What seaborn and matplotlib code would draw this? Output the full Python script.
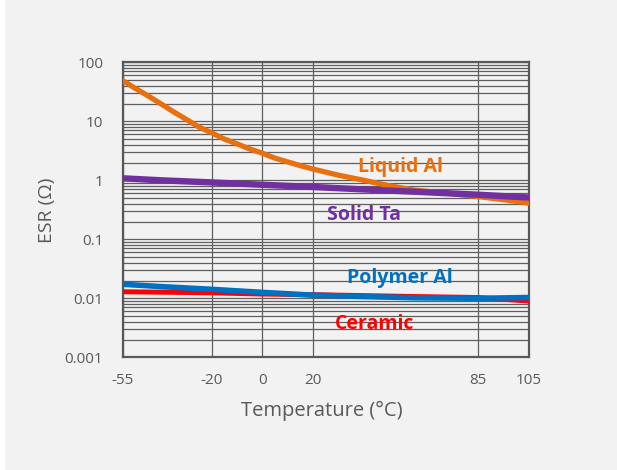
import matplotlib
matplotlib.use("Agg")
import numpy as np
import pandas as pd
import seaborn as sns
from matplotlib import pyplot as plt
from matplotlib.patches import Rectangle

# values (ESR in ohm vs temperature in C)
liq_temps = [-55, -50, -45, -40, -35, -30, -25, -20, -15, -10, -5, 0, 5, 10, 15, 20,
             30, 40, 50, 60, 70, 85, 95, 105]
liquid_al = [49, 36, 27, 19.8, 14.5, 10.8, 8.0, 6.4, 5.0, 4.15, 3.4, 2.88, 2.37, 2.05,
             1.77, 1.55, 1.22, 1.0, 0.81, 0.68, 0.62, 0.53, 0.47, 0.41]

temps = [-55, -40, -20, 0, 20, 40, 60, 85, 105]
solid_ta = [1.08, 1.00, 0.92, 0.84, 0.77, 0.70, 0.64, 0.57, 0.51]
polymer_al = [0.0173, 0.0158, 0.0142, 0.0126, 0.0113, 0.0107, 0.0102, 0.0100, 0.0103]
ceramic = [0.0129, 0.0127, 0.0124, 0.0118, 0.0115, 0.0111, 0.0107, 0.0103, 0.0090]

x_ticks = [-55, -20, 0, 20, 85, 105]
y_ticks = [0.001, 0.01, 0.1, 1, 10, 100]
y_labels = ["0.001", "0.01", "0.1", "1", "10", "100"]

series = {
    "Ceramic": (temps, ceramic),
    "Polymer Al": (temps, polymer_al),
    "Liquid Al": (liq_temps, liquid_al),
    "Solid Ta": (temps, solid_ta),
}
colors = {
    "Ceramic": "#FF0000",
    "Polymer Al": "#0070C0",
    "Liquid Al": "#E8700F",
    "Solid Ta": "#7030A0",
}
widths = {"Ceramic": 3.6, "Polymer Al": 4.0, "Liquid Al": 3.8, "Solid Ta": 4.6}

df = pd.concat(
    [pd.DataFrame({"temp": t, "esr": v, "type": k}) for k, (t, v) in series.items()],
    ignore_index=True,
)

bg = "#F2F2F2"
grid_col = "#5F5F5F"
text_col = "#595959"
sns.set_style("white")
plt.rcParams["font.family"] = ["Open Sans", "DejaVu Sans"]

fig = plt.figure(figsize=(6.17, 4.70), dpi=100, facecolor=bg)
ax = fig.add_axes([0.1989, 0.2398, 0.658, 0.6277])
ax.set_facecolor(bg)
fig.patches.append(Rectangle((0, 0), 4 / 617, 1, transform=fig.transFigure,
                             color="white", zorder=0))

for name in series:
    sub = df[df["type"] == name]
    sns.lineplot(data=sub, x="temp", y="esr", ax=ax, color=colors[name],
                 linewidth=widths[name], legend=False, zorder=3)

ax.set_yscale("log")
ax.set_xlim(-55, 105)
ax.set_ylim(0.001, 100)
ax.set_xticks(x_ticks)
ax.set_xticklabels([str(t) for t in x_ticks])
ax.set_yticks(y_ticks)
ax.set_yticklabels(y_labels)
ax.yaxis.set_minor_locator(matplotlib.ticker.LogLocator(base=10, subs=np.arange(2, 10)))
ax.yaxis.set_minor_formatter(matplotlib.ticker.NullFormatter())

ax.grid(True, which="major", axis="both", color=grid_col, linewidth=0.9)
ax.grid(True, which="minor", axis="y", color=grid_col, linewidth=0.9)
ax.set_axisbelow(True)
ax.tick_params(axis="both", which="both", length=0, colors=text_col, labelsize=11)
ax.tick_params(axis="y", pad=14)
ax.tick_params(axis="x", pad=11)
for s in ax.spines.values():
    s.set_color(text_col)
    s.set_linewidth(1.6)

ax.set_xlabel("Temperature (°C)", fontsize=14.5, color=text_col)
ax.set_ylabel("ESR (Ω)", fontsize=14, color=text_col)
ax.xaxis.set_label_coords((321.5 - 122.7) / 406, -(410.7 - 357.3) / 295)
ax.yaxis.set_label_coords(-(122.7 - 46.7) / 406, (357.3 - 210) / 295)
ax.xaxis.label.set_va("center")
ax.yaxis.label.set_va("center")

labels = [
    ("Liquid Al", 54.4, 1.70),
    ("Solid Ta", 40.2, 0.258),
    ("Polymer Al", 54.2, 0.0218),
    ("Ceramic", 44.3, 0.00363),
]
for name, tx, ty in labels:
    ax.text(tx, ty, name, color=colors[name], fontsize=14, fontweight="bold",
            ha="center", va="center", zorder=4)

fig.savefig("out.png", dpi=100, facecolor=bg)
